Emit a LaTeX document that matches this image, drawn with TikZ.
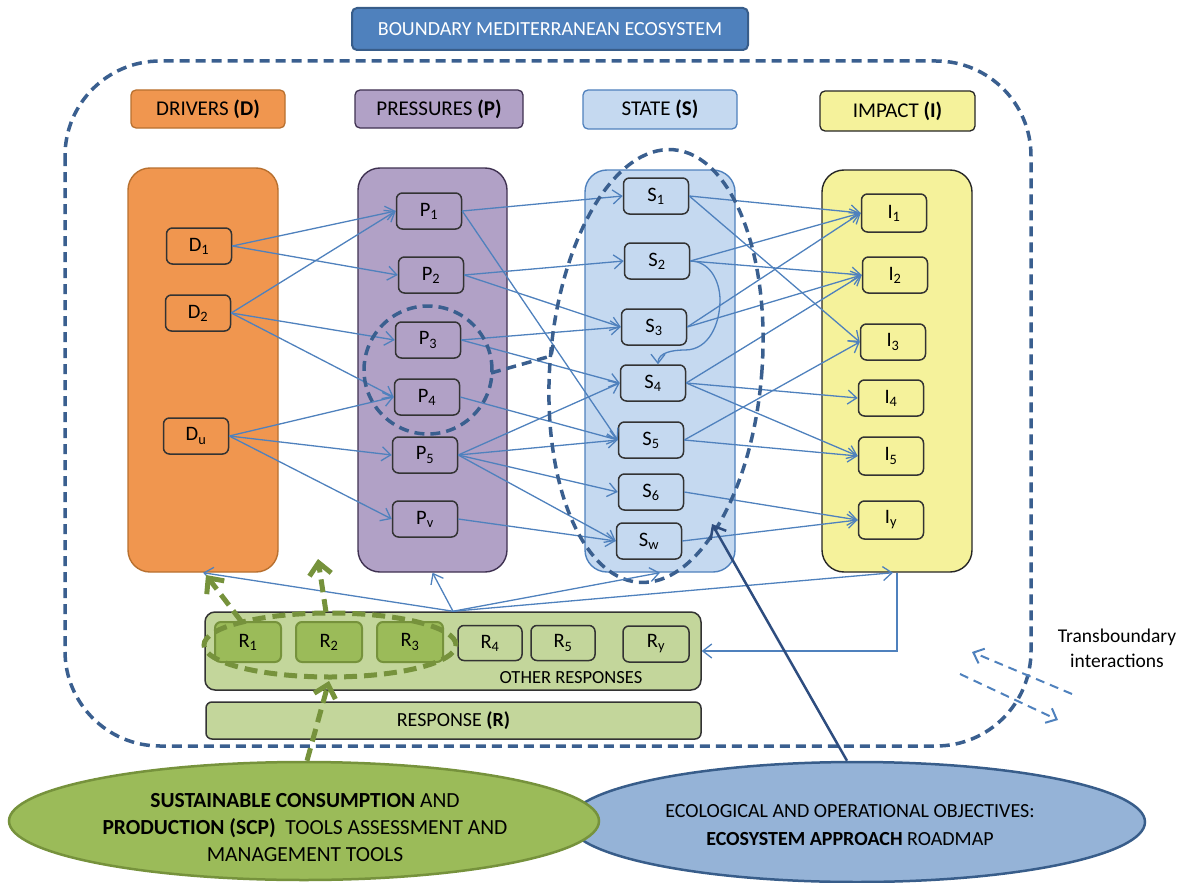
\documentclass[tikz,border=0pt]{standalone}
\usepackage{fontspec}
\setmainfont{Carlito}
\usetikzlibrary{arrows.meta,shapes.geometric}
\definecolor{cblue}{HTML}{4F81BD}
\definecolor{dkblue}{HTML}{3A5F8F}
\definecolor{navy}{HTML}{2E4D7F}
\definecolor{ofill}{HTML}{F0964F}
\definecolor{oline}{HTML}{B8702F}
\definecolor{pfill}{HTML}{B1A1C6}
\definecolor{pline}{HTML}{3F3151}
\definecolor{sfill}{HTML}{C5D9F0}
\definecolor{sline}{HTML}{4F81BD}
\definecolor{ifill}{HTML}{F5F29B}
\definecolor{iline}{HTML}{262626}
\definecolor{tfill}{HTML}{4F81BD}
\definecolor{tline}{HTML}{385D8A}
\definecolor{rfill}{HTML}{C3D69B}
\definecolor{gfill}{HTML}{9BBB59}
\definecolor{gline}{HTML}{76923C}
\definecolor{efill}{HTML}{95B3D7}
\definecolor{boxline}{HTML}{333333}
\begin{document}
\begin{tikzpicture}[x=1pt,y=-1pt,
  conn/.style={draw=cblue, line width=1.3pt, -{Straight Barb[length=9pt,width=14pt,line width=1.3pt]}},
  sbox/.style={draw=boxline, line width=1.5pt, rounded corners=6pt, minimum width=65pt, minimum height=36pt, inner sep=0pt, font=\fontsize{20.5}{24}\selectfont},
  col/.style={rounded corners=22pt, line width=1.4pt, inner sep=0pt, minimum width=150pt, minimum height=404pt},
  hdr/.style={rounded corners=5pt, line width=1.3pt, inner sep=0pt, minimum height=38pt, font=\fontsize{21}{24}\selectfont},
  bigdash/.style={draw=dkblue, line width=3.5pt, dash pattern=on 10pt off 6pt},
  gdash/.style={draw=gline, line width=5pt, dash pattern=on 13pt off 7pt},
  garrow/.style={gdash, -{Straight Barb[length=12pt,width=22pt,line width=5pt]}},
  tbarrow/.style={draw=cblue, line width=2pt, dash pattern=on 9pt off 6pt, -{Straight Barb[length=9pt,width=16pt,line width=2pt]}},
]
\useasboundingbox (0,0) rectangle (1192,883);

% outer boundary
\draw[bigdash, rounded corners=95pt] (65,61) rectangle (1031,746);
\node[draw=tline, fill=tfill, line width=2pt, rounded corners=5pt, minimum width=396pt, minimum height=42pt, inner sep=0pt, text=white, font=\fontsize{20}{24}\selectfont] (title) at (550,29) {BOUNDARY MEDITERRANEAN ECOSYSTEM};

% headers
\node[hdr, fill=ofill, draw=oline, minimum width=154pt] (hD) at (208,109) {DRIVERS \textbf{(D)}};
\node[hdr, fill=pfill, draw=pline, minimum width=168pt] (hP) at (439,109) {PRESSURES \textbf{(P)}};
\node[hdr, fill=sfill, draw=sline, minimum width=154pt, minimum height=39pt] (hS) at (660,109.5) {STATE \textbf{(S)}};
\node[hdr, fill=ifill, draw=iline, minimum width=155pt, minimum height=40pt] (hI) at (897.5,111) {IMPACT \textbf{(I)}};

% columns
\node[col, fill=ofill, draw=oline] (colD) at (203,370) {};
\node[col, fill=pfill, draw=pline, minimum width=149pt] (colP) at (432.5,370) {};
\node[col, fill=sfill, draw=sline, minimum height=402pt] (colS) at (660,371) {};
\node[col, fill=ifill, draw=iline, minimum height=402pt] (colI) at (897,371) {};

% nodes
\node[sbox, fill=ofill] (D1) at (199,246) {D\textsubscript{1}};
\node[sbox, fill=ofill] (D2) at (198,313) {D\textsubscript{2}};
\node[sbox, fill=ofill] (Du) at (196,436) {D\textsubscript{u}};
\node[sbox, fill=pfill] (P1) at (429,211) {P\textsubscript{1}};
\node[sbox, fill=pfill] (P2) at (431,275) {P\textsubscript{2}};
\node[sbox, fill=pfill] (P3) at (428,340) {P\textsubscript{3}};
\node[sbox, fill=pfill] (P4) at (427,397) {P\textsubscript{4}};
\node[sbox, fill=pfill] (P5) at (425,455) {P\textsubscript{5}};
\node[sbox, fill=pfill] (Pv) at (425,519) {P\textsubscript{v}};
\node[sbox, fill=sfill] (S1) at (656,196) {S\textsubscript{1}};
\node[sbox, fill=sfill] (S2) at (657,261) {S\textsubscript{2}};
\node[sbox, fill=sfill] (S3) at (654,327) {S\textsubscript{3}};
\node[sbox, fill=sfill] (S4) at (653,383) {S\textsubscript{4}};
\node[sbox, fill=sfill] (S5) at (651,440) {S\textsubscript{5}};
\node[sbox, fill=sfill] (S6) at (651,492) {S\textsubscript{6}};
\node[sbox, fill=sfill] (Sw) at (649,541) {S\textsubscript{w}};
\node[sbox, fill=ifill, minimum height=38pt] (I1) at (894,213) {I\textsubscript{1}};
\node[sbox, fill=ifill] (I2) at (895,275) {I\textsubscript{2}};
\node[sbox, fill=ifill] (I3) at (893,342) {I\textsubscript{3}};
\node[sbox, fill=ifill] (I4) at (891,398) {I\textsubscript{4}};
\node[sbox, fill=ifill, minimum height=38pt] (I5) at (891,456) {I\textsubscript{5}};
\node[sbox, fill=ifill, minimum height=38pt] (Iy) at (891,520) {I\textsubscript{y}};

% D -> P
\draw[conn] (D1.east) -- (P1.west);
\draw[conn] (D1.east) -- (P2.west);
\draw[conn] (D2.east) -- (P1.west);
\draw[conn] (D2.east) -- (P3.west);
\draw[conn] (D2.east) -- (P4.west);
\draw[conn] (Du.east) -- (P4.west);
\draw[conn] (Du.east) -- (P5.west);
\draw[conn] (Du.east) -- (Pv.west);
% P -> S
\draw[conn] (P1.east) -- (S1.west);
\draw[conn] (P1.east) -- (S5.west);
\draw[conn] (P2.east) -- (S2.west);
\draw[conn] (P2.east) -- (S3.west);
\draw[conn] (P3.east) -- (S3.west);
\draw[conn] (P3.east) -- (S4.west);
\draw[conn] (P4.east) -- (S5.west);
\draw[conn] (P5.east) -- (S4.west);
\draw[conn] (P5.east) -- (S5.west);
\draw[conn] (P5.east) -- (S6.west);
\draw[conn] (P5.east) -- (Sw.west);
\draw[conn] (Pv.east) -- (Sw.west);
% S -> I
\draw[conn] (S1.east) -- (I1.west);
\draw[conn] (S1.east) -- (I3.west);
\draw[conn] (S2.east) -- (I1.west);
\draw[conn] (S2.east) -- (I2.west);
\draw[conn] (S3.east) -- (I1.west);
\draw[conn] (S3.east) -- (I2.west);
\draw[conn] (S4.east) -- (I2.west);
\draw[conn] (S4.east) -- (I4.west);
\draw[conn] (S4.east) -- (I5.west);
\draw[conn] (S5.east) -- (I3.west);
\draw[conn] (S5.east) -- (I5.west);
\draw[conn] (S6.east) -- (Iy.west);
\draw[conn] (Sw.east) -- (Iy.west);
% S2 -> S4 loop
\coordinate (loopA) at (720,300);
\coordinate (loopB) at (685,350);
\draw[conn] (S2.east) to[out=0,in=90] (loopA) to[out=-90,in=0] (loopB) to[out=180,in=90] ([xshift=5pt]S4.north);

% dashed groupings
\draw[bigdash] (428,370) circle [radius=64pt];
\coordinate (pc1) at (491,373);
\coordinate (pc2) at (551,356);
\coordinate (pc3) at (553,345);
\draw[bigdash] (pc1) -- (pc2) -- (pc3);
\draw[bigdash, rotate around={-4.6:(656,366)}] (656,366) ellipse [x radius=106pt, y radius=217pt];

% response
\node[draw=boxline, fill=rfill, line width=1.5pt, rounded corners=10pt, minimum width=496pt, minimum height=78pt, inner sep=0pt] (resp) at (453,651) {};
\node[draw=boxline, fill=rfill, line width=1.5pt, rounded corners=6pt, minimum width=495pt, minimum height=37pt, inner sep=0pt, font=\fontsize{20}{24}\selectfont] (respL) at (453.5,720.5) {RESPONSE \textbf{(R)}};
\node[font=\fontsize{18.5}{22}\selectfont, inner sep=0pt] (other) at (571,678) {OTHER RESPONSES};
\node[sbox, fill=gfill, draw=gline, minimum width=66pt, minimum height=40pt, line width=2pt] (R1) at (248,642) {R\textsubscript{1}};
\node[sbox, fill=gfill, draw=gline, minimum width=66pt, minimum height=40pt, line width=2pt] (R2) at (329,642) {R\textsubscript{2}};
\node[sbox, fill=gfill, draw=gline, minimum width=66pt, minimum height=40pt, line width=2pt] (R3) at (410,642) {R\textsubscript{3}};
\node[sbox, fill=rfill, minimum width=64pt, minimum height=35pt] (R4) at (490,643) {R\textsubscript{4}};
\node[sbox, fill=rfill, minimum width=64pt, minimum height=35pt] (R5) at (563,643) {R\textsubscript{5}};
\node[sbox, fill=rfill, minimum width=66pt, minimum height=36pt] (Ry) at (656,644) {R\textsubscript{y}};
\draw[gdash] (330,645) ellipse [x radius=126pt, y radius=32pt];

% response feedback arrows
\draw[conn] (resp.north) -- (colD.south);
\draw[conn] (resp.north) -- (colP.south);
\draw[conn] (resp.north) -- (colS.south);
\draw[conn] (resp.north) -- ([xshift=-4pt]colI.south);
\draw[conn] (colI.south) |- (resp.east);

% green arrows
\coordinate (g1s) at (241,621);
\coordinate (g1e) at (206,575);
\coordinate (g2s) at (326,612);
\coordinate (g2e) at (318,559);
\coordinate (g3e) at (329,681);
\draw[garrow] (g1s) -- (g1e);
\draw[garrow] (g2s) -- (g2e);

% bottom ellipses
\node[ellipse, draw=tline, fill=efill, line width=2.5pt, minimum width=576pt, minimum height=120pt, inner sep=0pt] (eco) at (857,822) {};
\node[ellipse, draw=gline, fill=gfill, line width=2.5pt, minimum width=590pt, minimum height=118pt, inner sep=0pt] (scp) at (304,821) {};
\node[align=center, font=\fontsize{21.5}{27}\selectfont, inner sep=0pt] (scpT) at (305,828) {\textbf{SUSTAINABLE CONSUMPTION} AND\\\textbf{PRODUCTION (SCP)}\ \ TOOLS ASSESSMENT AND\\MANAGEMENT TOOLS};
\node[align=center, font=\fontsize{20}{28}\selectfont, inner sep=0pt] (ecoT) at (850,825) {ECOLOGICAL AND OPERATIONAL OBJECTIVES:\\\textbf{ECOSYSTEM APPROACH} ROADMAP};
\draw[garrow] ([xshift=3pt]scp.north) -- (g3e);
\coordinate (navyTip) at (712,524);
\draw[draw=navy, line width=2.5pt, -{Straight Barb[length=11pt,width=18pt,line width=2.5pt]}] ([xshift=-10pt]eco.north) -- (navyTip);

% transboundary
\coordinate (tb1s) at (1072,694);
\coordinate (tb1e) at (972,652);
\coordinate (tb2s) at (960,674);
\coordinate (tb2e) at (1058,720);
\draw[tbarrow] (tb1s) -- (tb1e);
\draw[tbarrow] (tb2s) -- (tb2e);
\node[align=center, font=\fontsize{19.5}{25}\selectfont] (tbT) at (1117,648) {Transboundary\\interactions};
\end{tikzpicture}
\end{document}
